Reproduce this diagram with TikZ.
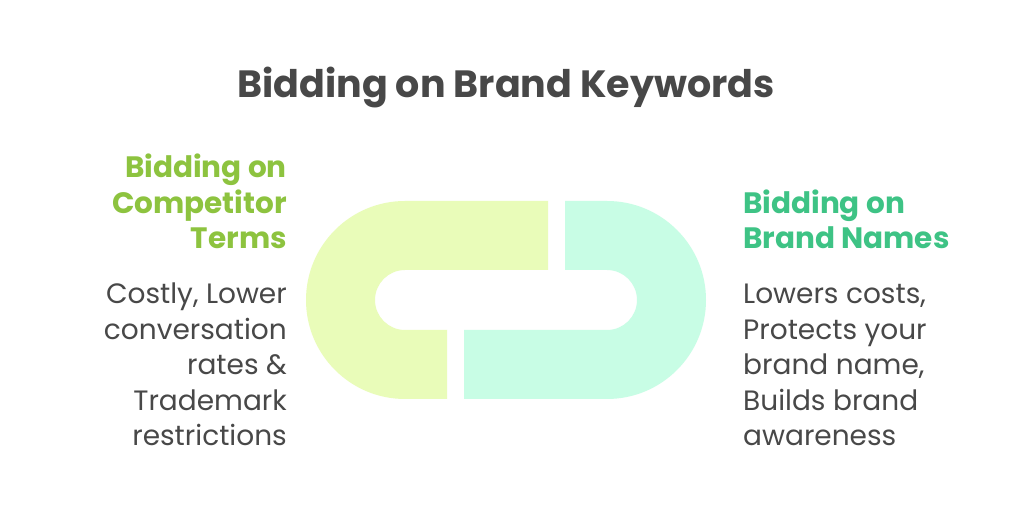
\documentclass[tikz,border=0pt]{standalone}
\usepackage{fontspec}
\setmainfont{Poppins}
\usepackage{xcolor}
\usetikzlibrary{calc}
\definecolor{inkgray}{HTML}{484848}
\definecolor{leafgreen}{HTML}{8DC33F}
\definecolor{mintgreen}{HTML}{3EC385}
\definecolor{paleleaf}{HTML}{E9FCB9}
\definecolor{palemint}{HTML}{C8FDE5}

\begin{document}
\begin{tikzpicture}[x=1pt,y=1pt,
    headtxt/.style={inner sep=0pt,font=\bfseries\fontsize{29.5}{35.5}\selectfont},
    bodytxt/.style={inner sep=0pt,text=inkgray,font=\fontsize{28}{35.5}\selectfont}]
    \useasboundingbox[fill=white] (0,0) rectangle (1029,527);
    \node[inner sep=0pt,anchor=base,text=inkgray,font=\bfseries\fontsize{38}{44}\selectfont] (title) at (506,429) {Bidding on Brand Keywords};
    % the two halves of the link
    \fill[paleleaf] (548,326) -- (405,326) arc (90:270:99) -- (447,128) -- (447,197) -- (405,197) arc (270:90:30) -- (548,257) -- cycle;
    \fill[palemint] (565,326) -- (607,326) arc (90:-90:99) -- (464,128) -- (464,197) -- (607,197) arc (-90:90:30) -- (565,257) -- cycle;
    \node[headtxt,text=leafgreen,align=right,anchor=base east] (comphead) at (287,278) {Bidding on\\Competitor\\Terms};
    \node[bodytxt,align=right,anchor=base east] (compbody) at (287,81) {Costly, Lower\\conversation\\rates \&\\Trademark\\restrictions};
    \node[headtxt,text=mintgreen,align=left,anchor=base west] (brandhead) at (743,278) {Bidding on\\Brand Names};
    \node[bodytxt,align=left,anchor=base west] (brandbody) at (743,81) {Lowers costs,\\Protects your\\brand name,\\Builds brand\\awareness};
\end{tikzpicture}
\end{document}
